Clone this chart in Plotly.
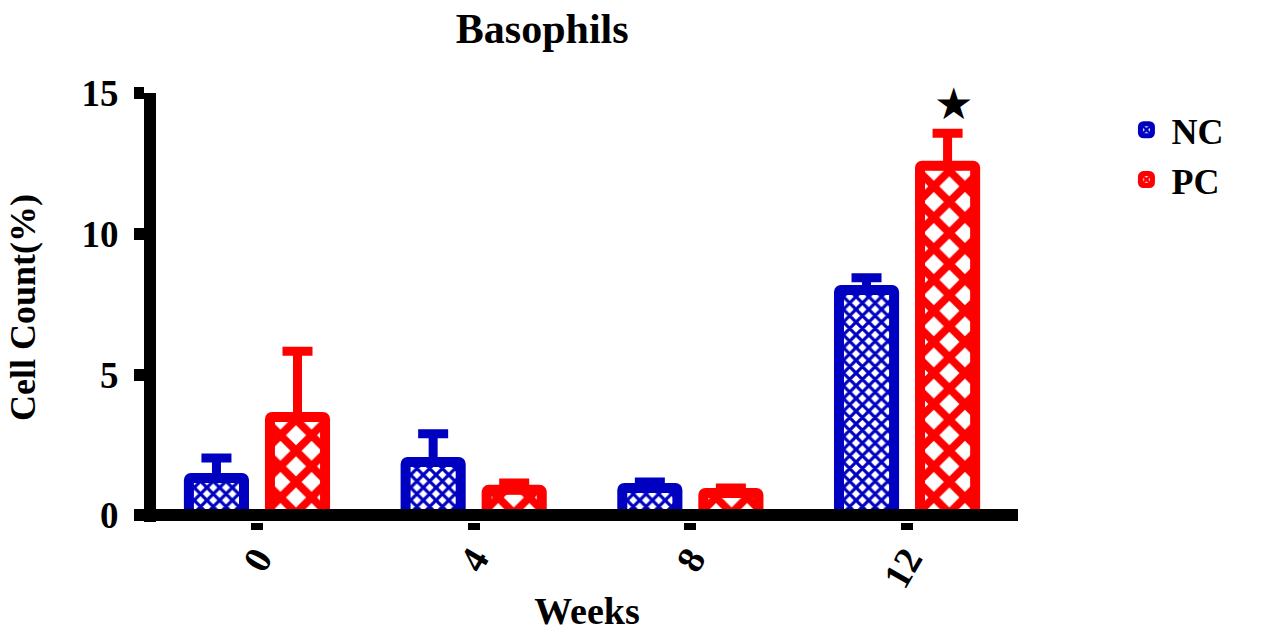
import plotly.graph_objects as go

# ---- data ----
weeks = ["0", "4", "8", "12"]
nc_mean = [1.33, 1.90, 0.98, 8.01]
nc_err = [0.71, 1.00, 0.21, 0.43]
pc_mean = [3.50, 0.91, 0.80, 12.42]
pc_err = [2.33, 0.24, 0.18, 1.15]
series_names = ["NC", "PC"]
y_ticks = [0, 5, 10, 15]
star_week = "12"

BLUE = "#0000C0"
RED = "#FF0000"
FONT = "Liberation Serif, Times New Roman, serif"


def make_bar(name, y, err, color, size):
    return go.Bar(
        name=name,
        x=weeks,
        y=y,
        marker=dict(
            color="white",
            line=dict(color=color, width=10),
            cornerradius=2,
            pattern=dict(shape="x", fgcolor=color, bgcolor="white",
                         size=size, solidity=0.58, fillmode="replace"),
        ),
        error_y=dict(type="data", array=err, arrayminus=[0] * len(err),
                     symmetric=False, color=color, thickness=9, width=15),
    )


fig = go.Figure([
    make_bar(series_names[0], nc_mean, nc_err, BLUE, 9),
    make_bar(series_names[1], pc_mean, pc_err, RED, 22),
])

si = weeks.index(star_week)
fig.add_annotation(
    x=si, y=pc_mean[si] + pc_err[si], xref="x", yref="y",
    text="★", showarrow=False, xshift=46, yshift=2, yanchor="bottom",
    font=dict(family="DejaVu Sans", size=44, color="black"),
)

fig.update_layout(
    width=1261, height=632,
    margin=dict(l=156, r=243, t=93, b=110, autoexpand=False),
    paper_bgcolor="white", plot_bgcolor="white",
    barmode="group", bargap=0.252, bargroupgap=0.32,
    font=dict(family=FONT, color="black", size=34, weight="bold"),
    title=dict(text="Basophils", x=0.43, xref="container", xanchor="center",
               y=0.956, yref="container", yanchor="middle",
               font=dict(family=FONT, size=42, weight="bold", color="black")),
    legend=dict(x=1.12, y=0.984, xanchor="left", yanchor="top",
                font=dict(family=FONT, size=36, weight="bold"),
                itemwidth=40,
                tracegroupgap=0, bgcolor="rgba(0,0,0,0)"),
    showlegend=True,
)

fig.update_xaxes(
    type="category", range=[-0.466, 3.512], automargin=False,
    showline=False, showgrid=False, zeroline=False,
    ticks="outside", ticklen=7, tickwidth=12, tickcolor="black",
    tickangle=-60,
    tickfont=dict(family=FONT, size=38, weight="bold"),
    title=dict(text="Weeks", standoff=14,
               font=dict(family=FONT, size=38, weight="bold")),
)

fig.update_yaxes(
    range=[-0.231, 15], tickvals=y_ticks, automargin=False,
    showline=True, linewidth=12, linecolor="black",
    showgrid=False,
    zeroline=True, zerolinewidth=12, zerolinecolor="black",
    ticks="outside", ticklen=10, tickwidth=12, tickcolor="black",
    tickfont=dict(family=FONT, size=37, weight="bold"),
    title=dict(text="Cell Count(%)", standoff=40,
               font=dict(family=FONT, size=36, weight="bold")),
)

try:
    fig.update_yaxes(zerolinelayer="above traces")
except Exception:
    pass
try:
    fig.update_xaxes(ticklabelstandoff=-8)
except Exception:
    pass
try:
    fig.update_yaxes(ticklabelstandoff=8)
except Exception:
    pass

fig.write_html("out.html")
